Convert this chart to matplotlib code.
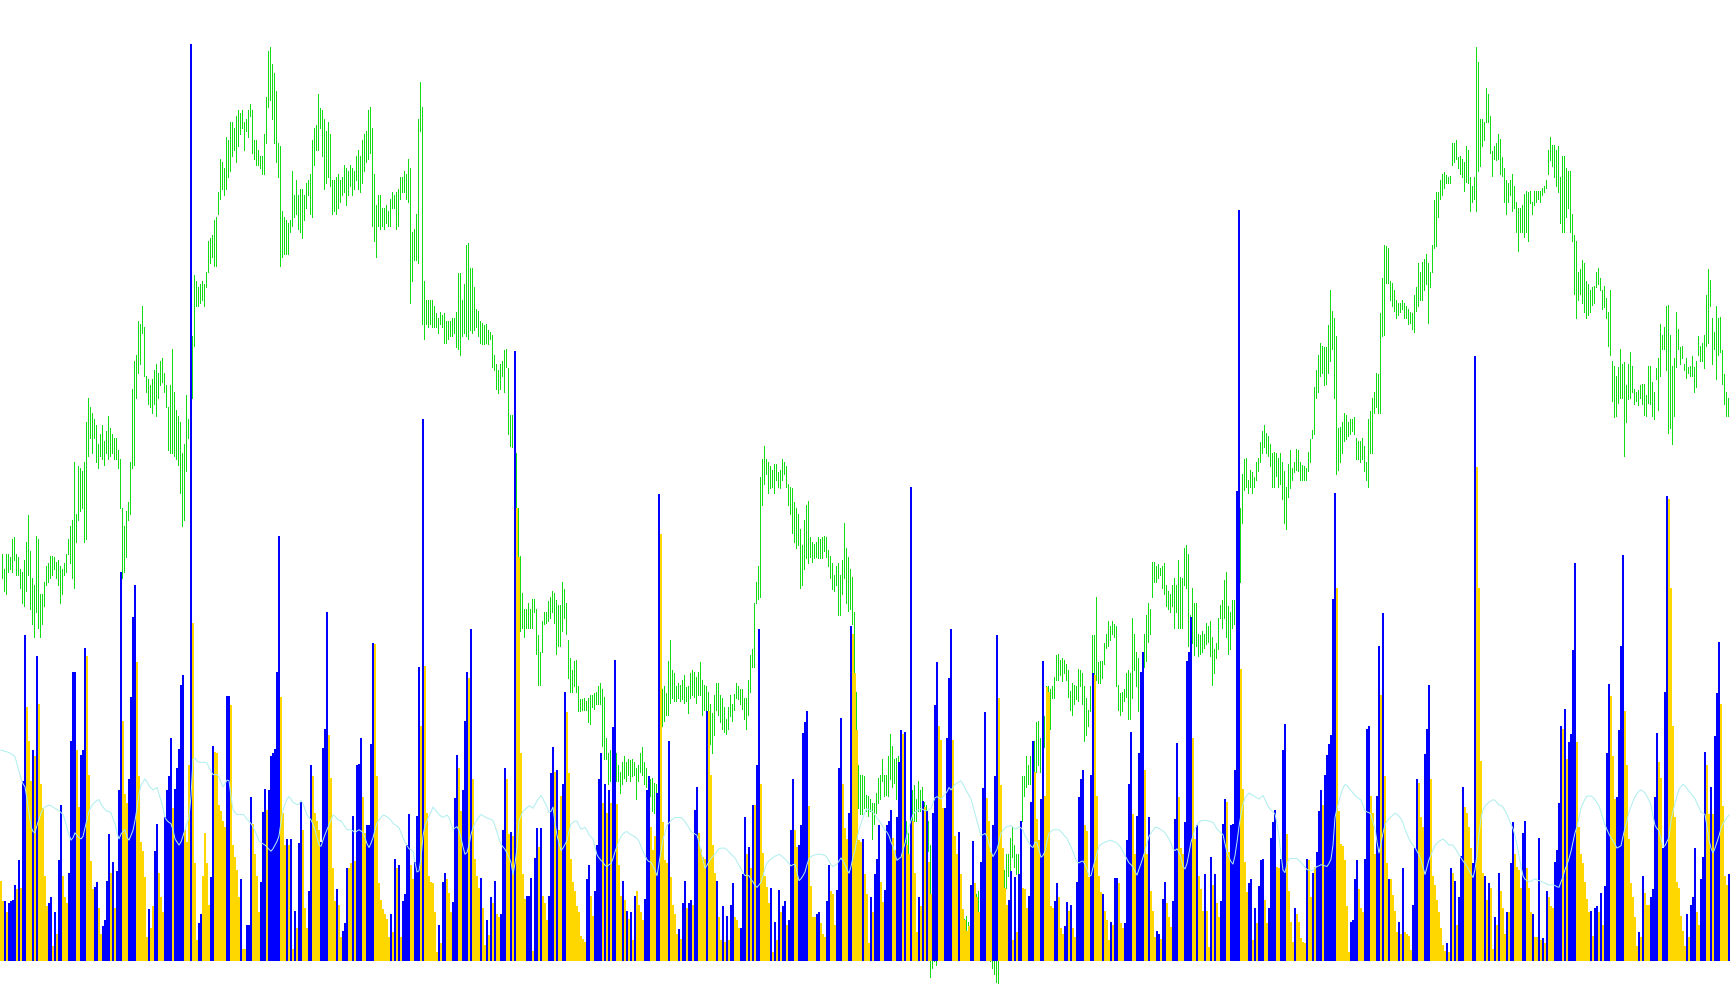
import numpy as np
import matplotlib
matplotlib.use("Agg")
import matplotlib.pyplot as plt

# bar extremes (price units), one pair per bar, left to right
high = [
    665, 640, 665, 665, 660, 690, 692, 665, 660, 640, 635, 655, 685, 728, 670, 625, 615, 695, 690, 600,
    600, 620, 645, 650, 662, 662, 660, 652, 655, 645, 640, 650, 665, 690, 710, 720, 815, 730, 808, 805,
    800, 815, 880, 920, 905, 895, 885, 875, 845, 860, 875, 850, 865, 890, 870, 860, 855, 855, 835, 820,
    740, 710, 735, 750, 815, 935, 980, 990, 1045, 1040, 1070, 1035, 955, 950, 940, 950, 965, 975, 960, 980,
    985, 960, 940, 905, 940, 1000, 930, 900, 890, 880, 830, 845, 925, 885, 925, 1020, 1120, 1110, 1100, 1105,
    1110, 1105, 1125, 1175, 1180, 1185, 1210, 1215, 1255, 1310, 1305, 1295, 1345, 1340, 1370, 1370, 1360, 1380, 1390, 1385,
    1390, 1370, 1375, 1390, 1400, 1390, 1340, 1340, 1325, 1315, 1315, 1350, 1410, 1485, 1492, 1465, 1450, 1420, 1335, 1330,
    1225, 1215, 1210, 1205, 1210, 1290, 1250, 1275, 1250, 1260, 1260, 1250, 1270, 1275, 1285, 1340, 1360, 1365, 1415, 1392,
    1390, 1375, 1355, 1370, 1350, 1275, 1275, 1280, 1285, 1275, 1280, 1300, 1295, 1290, 1300, 1295, 1290, 1315, 1325, 1315,
    1340, 1350, 1355, 1390, 1395, 1360, 1285, 1235, 1250, 1250, 1230, 1230, 1235, 1225, 1245, 1255, 1250, 1255, 1260, 1280,
    1280, 1290, 1285, 1310, 1295, 1190, 1195, 1220, 1375, 1435, 1395, 1110, 1080, 1080, 1080, 1080,
    1070, 1058, 1050, 1060, 1055, 1058, 1045, 1045, 1045, 1050, 1050, 1060, 1123, 1123, 1080, 1105, 1170, 1172, 1132, 1132,
    1100, 1065, 1062, 1045, 1042, 1038, 1040, 1030, 1028, 1022, 990, 975, 965, 975, 980, 998, 1000, 968, 892, 892,
    865, 830, 740, 662, 602, 575, 575, 585, 575, 592, 592, 575, 532, 505, 555, 570, 570, 588, 595, 605,
    602, 590, 582, 582, 620, 608, 585, 525, 495, 475, 490, 492, 450, 428, 428, 430, 425, 430, 435, 435,
    438, 440, 450, 455, 445, 432, 365, 340, 345, 340, 345, 340, 320, 310, 325, 335, 325, 330, 328, 330,
    325, 315, 320, 340, 350, 325, 315, 295, 298, 300, 292, 290, 300, 420, 445, 450, 438, 490, 525, 475,
    470, 450, 455, 452, 460, 468, 448, 450, 470, 475, 472, 465, 472, 488, 460, 452, 450, 440, 420, 405,
    435, 455, 455, 435, 430, 415, 395, 415, 435, 420, 437, 455, 450, 445, 445, 430, 430, 460, 500, 510,
    585, 620, 645, 790, 820, 842, 820, 815, 808, 802, 812, 812, 798, 802, 820, 815, 808, 780, 775, 772,
    750, 740, 730, 705, 680, 720, 745, 752, 692, 685, 682, 685, 692, 690, 692, 695, 692, 672, 662, 650,
    630, 645, 650, 630, 655, 715, 675, 660, 640, 628, 570, 440, 320, 305, 305, 302, 272,
    270, 265, 258, 258, 275, 300, 305, 330, 305, 305, 335, 372, 352, 330, 332, 335, 350, 320, 260, 230,
    210, 252, 280, 288, 265, 295, 280, 285, 260, 255, 230, 190, 120, 90, 70, 80, 100, 120, 130, 140,
    120, 110, 130, 120, 100, 90, 80, 70, 70, 75, 65, 60, 80, 100, 110, 115, 115, 100, 80, 70,
    60, 50, 30, 20, 30, 40, 80, 120, 150, 175, 175, 202, 220, 190, 175, 175, 210, 302, 302, 335,
    320, 335, 325, 360, 390, 392, 365, 395, 400, 450, 450, 445, 450, 465, 500, 502, 492, 495, 492, 485,
    475, 442, 455, 452, 450, 478, 475, 470, 450, 430, 410, 450, 532, 532, 595, 488, 490, 490, 520, 535,
    555, 548, 555, 550, 548, 452, 438, 440, 445, 470, 475, 470, 560, 535, 505, 495, 450, 490, 535, 565,
    585, 575, 652, 652, 645, 648, 642, 645, 650, 615, 605, 600, 615, 625, 615, 655, 627, 625, 675, 680,
    665, 565, 610, 585, 585, 535, 532, 540, 535, 552, 547, 555, 530, 510, 520, 560, 582, 590, 622, 635,
    580, 570, 590, 590, 600, 690, 740, 795, 820, 822, 785, 802, 798, 790, 815, 822, 848, 865, 875, 862,
    858, 845, 830, 832, 830, 822, 830, 815, 800, 775, 812, 835, 805, 815, 837, 835,
    815, 810, 808, 805, 832, 852, 868, 938, 965, 990, 1010, 1005, 1002, 1002, 1038, 1095, 1062, 1050, 1020, 870,
    872, 880, 895, 892, 880, 885, 885, 888, 855, 850, 850, 855, 842, 815, 885, 898, 920, 930, 960, 958,
    1058, 1115, 1170, 1168, 1165, 1110, 1108, 1095, 1080, 1075, 1075, 1080, 1075, 1070, 1065, 1060, 1058, 1088, 1100, 1140,
    1125, 1142, 1147, 1155, 1140, 1125, 1170, 1242, 1255, 1255, 1275, 1285, 1288, 1284, 1280, 1282, 1335, 1335, 1340, 1312,
    1315, 1310, 1305, 1330, 1325, 1280, 1265, 1280, 1493, 1468, 1375, 1375, 1370, 1425, 1415, 1380, 1322, 1330, 1335, 1350,
    1342, 1312, 1295, 1275, 1270, 1275, 1285, 1265, 1240, 1230, 1230, 1235, 1252, 1258, 1255, 1258, 1240, 1258, 1258, 1258,
    1258, 1262, 1265, 1275, 1325, 1345, 1332, 1332, 1325, 1330, 1280, 1315, 1315, 1295, 1290, 1290, 1220, 1185, 1175, 1125,
    1130, 1145, 1140, 1110, 1105, 1095, 1100, 1102, 1125, 1132, 1115, 1095, 1102, 1082, 1060, 1095, 980, 972, 955, 970,
    1000, 975, 978, 940, 975, 995, 972, 935, 930, 932, 940, 942, 942, 925, 972, 972, 945, 930, 968, 985,
    1040, 1022, 1035, 1070, 1072, 1022, 972, 985, 1060, 1032, 1002, 1005, 975, 985, 970, 972, 988, 970, 980, 1020,
    1005, 1010, 1023, 1088, 1130, 1112, 1050, 1028, 1070, 1050, 1052, 998, 958, 930, 920, 920,
]
low = [
    625, 605, 600, 635, 640, 635, 655, 630, 630, 610, 585, 580, 605, 630, 575, 550, 530, 570, 545, 530,
    550, 580, 615, 620, 625, 630, 640, 625, 615, 585, 600, 630, 635, 665, 650, 625, 610, 685, 720, 735,
    740, 685, 690, 825, 855, 830, 855, 815, 805, 825, 820, 810, 830, 820, 825, 830, 820, 820, 805, 740,
    625, 635, 660, 720, 730, 805, 810, 920, 960, 975, 1025, 955, 930, 910, 905, 895, 910, 890, 920, 940,
    945, 930, 905, 835, 830, 830, 825, 820, 810, 765, 710, 720, 800, 855, 875, 920, 1005, 1070, 1070, 1075,
    1080, 1070, 1100, 1125, 1140, 1150, 1135, 1135, 1220, 1245, 1260, 1250, 1260, 1280, 1290, 1315, 1325, 1305, 1330, 1350,
    1360, 1325, 1355, 1345, 1380, 1320, 1310, 1300, 1300, 1295, 1285, 1285, 1335, 1395, 1405, 1375, 1335, 1305, 1280, 1135,
    1150, 1155, 1155, 1155, 1190, 1200, 1215, 1220, 1195, 1190, 1180, 1210, 1230, 1250, 1220, 1215, 1300, 1325, 1325, 1360,
    1315, 1260, 1270, 1280, 1265, 1220, 1225, 1220, 1230, 1240, 1250, 1255, 1235, 1250, 1265, 1250, 1260, 1275, 1260, 1255,
    1270, 1290, 1305, 1310, 1320, 1200, 1175, 1150, 1200, 1195, 1200, 1195, 1205, 1200, 1200, 1230, 1230, 1195, 1200, 1245,
    1255, 1255, 1245, 1240, 1075, 1110, 1145, 1145, 1140, 1355, 1040, 1015, 1040, 1035, 1040, 1035,
    1035, 1035, 1025, 1040, 1035, 1010, 1010, 1015, 1020, 1020, 1025, 1002, 1000, 990, 1020, 1025, 1020, 1015, 1030, 1025,
    1030, 1035, 1020, 1010, 1008, 1008, 1010, 1008, 1015, 970, 965, 935, 927, 935, 955, 930, 970, 860, 842, 840,
    818, 740, 650, 540, 545, 530, 545, 545, 545, 545, 570, 502, 452, 452, 505, 550, 552, 555, 560, 570,
    552, 502, 515, 515, 540, 560, 535, 462, 440, 440, 450, 440, 408, 408, 410, 410, 410, 390, 388, 415,
    412, 420, 420, 420, 352, 330, 330, 290, 295, 290, 310, 295, 295, 275, 290, 300, 295, 305, 295, 302,
    305, 265, 295, 310, 305, 290, 285, 262, 270, 245, 242, 245, 245, 270, 385, 392, 402, 402, 422, 430,
    425, 425, 430, 425, 428, 422, 425, 405, 430, 435, 432, 422, 435, 435, 402, 410, 392, 390, 355, 340,
    370, 410, 402, 390, 380, 375, 372, 380, 400, 392, 410, 430, 428, 420, 412, 395, 380, 402, 440, 480,
    480, 585, 592, 595, 745, 780, 795, 765, 772, 775, 765, 785, 775, 772, 785, 795, 775, 745, 730, 700,
    685, 675, 680, 610, 615, 640, 658, 650, 660, 652, 658, 660, 658, 658, 658, 670, 660, 645, 625, 608,
    605, 615, 565, 565, 600, 625, 585, 572, 575, 550, 420, 300, 250, 240, 240, 250, 245,
    238, 245, 200, 225, 242, 258, 265, 295, 270, 272, 270, 298, 285, 292, 265, 235, 280, 220, 190, 170,
    175, 175, 220, 230, 230, 245, 245, 210, 180, 200, 180, -25, -10, 0, -5, 10, 20, 40, 50, 60,
    50, 40, 60, 50, 30, 20, 10, 20, 30, 40, 20, 20, 25, 40, 50, 60, 70, 50, 30, 20,
    10, 0, -10, -20, -33, -35, 10, 50, 80, 120, 140, 150, 170, 155, 142, 145, 175, 230, 270, 285,
    290, 290, 270, 310, 310, 320, 310, 335, 350, 375, 425, 380, 430, 430, 460, 460, 468, 458, 470, 460,
    432, 410, 402, 420, 428, 425, 450, 420, 360, 370, 385, 408, 430, 405, 460, 455, 455, 462, 485, 512,
    515, 525, 535, 530, 450, 410, 402, 408, 425, 432, 395, 395, 430, 475, 450, 408, 350, 448, 480, 490,
    522, 535, 595, 620, 620, 625, 630, 610, 600, 580, 575, 570, 580, 545, 570, 545, 545, 545, 615, 610,
    515, 515, 520, 500, 515, 498, 502, 505, 512, 518, 522, 498, 452, 470, 495, 510, 560, 545, 560, 530,
    502, 510, 545, 550, 530, 570, 620, 715, 770, 775, 765, 775, 765, 775, 785, 800, 815, 830, 840, 830,
    825, 808, 775, 775, 792, 775, 780, 755, 715, 705, 758, 772, 785, 798, 802, 800,
    785, 785, 785, 785, 800, 815, 855, 860, 920, 930, 955, 960, 940, 942, 960, 980, 1000, 920, 795, 802,
    815, 830, 850, 852, 858, 860, 865, 860, 820, 820, 815, 820, 800, 785, 775, 830, 830, 895, 905, 895,
    895, 1020, 1022, 1108, 1108, 1080, 1070, 1062, 1050, 1055, 1060, 1065, 1050, 1050, 1040, 1042, 1032, 1028, 1062, 1070,
    1080, 1080, 1095, 1105, 1042, 1100, 1125, 1165, 1168, 1215, 1245, 1250, 1262, 1270, 1270, 1270, 1300, 1305, 1310, 1295,
    1285, 1280, 1258, 1272, 1270, 1225, 1240, 1245, 1225, 1290, 1298, 1330, 1340, 1370, 1370, 1320, 1282, 1310, 1308, 1310,
    1285, 1282, 1240, 1220, 1240, 1250, 1225, 1230, 1190, 1160, 1190, 1190, 1182, 1190, 1175, 1238, 1220, 1235, 1240, 1245,
    1240, 1250, 1255, 1262, 1285, 1308, 1298, 1280, 1265, 1255, 1205, 1190, 1190, 1215, 1230, 1190, 1175, 1090, 1050, 1080,
    1090, 1075, 1060, 1050, 1055, 1060, 1072, 1075, 1100, 1105, 1095, 1065, 1068, 1050, 1005, 990, 915, 888, 890, 912,
    920, 920, 825, 880, 918, 920, 930, 910, 915, 908, 920, 910, 892, 890, 912, 910, 890, 885, 950, 900,
    955, 1000, 1000, 965, 862, 870, 845, 890, 970, 1000, 975, 985, 965, 952, 960, 955, 955, 930, 938, 990,
    980, 980, 968, 1005, 1010, 1070, 975, 1000, 950, 990, 995, 942, 910, 890, 890, 890,
]

# histogram per bar and its colour (B = blue, Y = gold)
volume = [
    132, 98, 98, 80, 95, 98, 100, 125, 118, 165, 120, 295, 533, 415, 360, 295, 345, 335, 498, 420,
    290, 250, 140, 90, 95, 105, 25, 80, 45, 165, 255, 140, 105, 95, 145, 360, 472, 473, 345, 252,
    337, 345, 512, 498, 305, 164, 118, 122, 130, 88, 45, 58, 68, 132, 208, 145, 163, 88, 148, 280,
    635, 393, 273, 258, 298, 432, 562, 614, 488, 302, 195, 180, 138, 40, 85, 55, 90, 180, 225, 145,
    105, 80, 235, 280, 303, 365, 250, 282, 315, 347, 452, 468, 215, 195, 320, 1498, 552, 160, 35, 63,
    77, 140, 210, 160, 93, 138, 352, 342, 340, 255, 245, 230, 220, 433, 433, 418, 190, 170, 150, 105,
    134, 20, 20, 60, 60, 268, 225, 175, 140, 80, 130, 244, 282, 248, 280, 335, 340, 347, 473, 694,
    432, 243, 190, 200, 190, 200, 20, 83, 55, 193, 260, 215, 88, 55, 115, 320, 302, 243, 230, 215,
    195, 348, 380, 570, 370, 300, 152, 98, 118, 92, 40, 50, 62, 153, 153, 160, 238, 164, 320, 322,
    365, 268, 210, 222, 222, 355, 520, 518, 303, 128, 100, 85, 78, 70, 40, 78, 48, 168, 152, 158,
    40, 98, 110, 190, 240, 158, 135, 163, 238, 480, 385, 886, 482, 242, 140, 130,
    128, 80, 15, 60, 30, 130, 145, 135, 112, 80, 97, 267, 337, 315, 245, 280, 393, 472, 463, 542,
    298, 167, 140, 120, 137, 88, 27, 68, 43, 105, 95, 132, 77, 73, 78, 215, 315, 298, 208, 212,
    205, 997, 740, 660, 340, 142, 102, 107, 107, 137, 17, 169, 218, 187, 218, 107, 95, 67, 107, 308,
    350, 310, 312, 215, 270, 290, 440, 407, 307, 168, 130, 115, 90, 80, 42, 37, 32, 135, 158, 107,
    75, 115, 190, 297, 340, 258, 290, 243, 280, 258, 383, 492, 257, 157, 107, 132, 100, 83, 70, 80,
    35, 107, 115, 92, 80, 68, 102, 280, 303, 220, 182, 205, 275, 763, 698, 227, 165, 160, 360, 138,
    92, 77, 45, 53, 37, 95, 132, 87, 95, 100, 93, 248, 285, 210, 183, 170, 168, 408, 408, 305,
    190, 145, 132, 72, 35, 90, 32, 75, 35, 92, 128, 73, 68, 55, 55, 142, 235, 175, 187, 152,
    255, 255, 320, 542, 290, 177, 140, 122, 95, 120, 15, 65, 35, 117, 80, 90, 98, 60, 67, 215,
    298, 215, 187, 190, 223, 373, 390, 408, 253, 123, 72, 72, 78, 80, 62, 45, 40, 98, 157, 115,
    110, 60, 117, 315, 398, 290, 218, 200, 242, 548, 535, 470, 378, 198, 195, 200, 142,
    110, 30, 105, 80, 142, 168, 223, 130, 97, 117, 222, 230, 248, 202, 182, 235, 325, 377, 372, 375,
    190, 175, 775, 230, 145, 48, 105, 90, 262, 252, 245, 162, 110, 242, 418, 488, 385, 362, 250, 250,
    365, 463, 542, 362, 205, 175, 212, 143, 85, 67, 50, 58, 125, 197, 128, 105, 80, 163, 283, 407,
    267, 230, 178, 223, 302, 533, 430, 288, 185, 120, 92, 100, 148, 35, 138, 48, 142, 230, 120, 118,
    87, 107, 260, 360, 310, 232, 198, 265, 490, 270, 448, 440, 90, 88, 98, 128, 105, 55, 45, 58,
    97, 83, 92, 55, 40, 130, 268, 298, 312, 223, 213, 138, 305, 470, 468, 270, 140, 113, 110, 83,
    68, 35, 65, 60, 137, 137, 128, 62, 55, 63, 198, 290, 375, 240, 175, 237, 340, 472, 505, 313,
    175, 235, 115, 82, 40, 50, 45, 37, 102, 130, 95, 72, 57, 98, 233, 357, 268, 185, 175, 228,
    490, 505, 562, 365, 200, 222, 140, 118, 83, 142, 83, 23, 170, 125, 142, 95, 72, 98, 225, 265,
    260, 178, 222, 225, 313, 768, 1227, 477, 282, 162, 113, 128, 135, 35, 88, 62, 123, 165, 167, 100,
    62, 88, 202, 228, 248, 155, 152, 168, 345, 387, 208, 115, 65, 32, 88, 78,
    65, 38, 32, 30, 168, 165, 105, 145, 155, 178, 245, 280, 255, 305, 337, 355, 370, 592, 765, 610,
    245, 192, 188, 165, 90, 15, 65, 68, 135, 165, 118, 88, 80, 168, 380, 385, 270, 243, 175, 270,
    515, 435, 568, 303, 160, 135, 135, 108, 83, 48, 65, 45, 152, 48, 45, 42, 18, 92, 185, 297,
    292, 235, 220, 338, 380, 452, 298, 140, 125, 100, 80, 55, 27, 17, 30, 15, 153, 145, 132, 60,
    105, 172, 285, 252, 242, 220, 185, 160, 988, 807, 610, 327, 145, 140, 100, 128, 120, 20, 73, 60,
    145, 115, 88, 45, 80, 80, 160, 228, 175, 155, 150, 120, 210, 230, 152, 120, 80, 78, 40, 40,
    202, 35, 38, 30, 115, 105, 90, 88, 162, 182, 258, 385, 380, 412, 330, 358, 372, 508, 650, 358,
    220, 175, 160, 130, 102, 80, 83, 42, 88, 90, 80, 112, 60, 123, 340, 453, 433, 335, 265, 268,
    377, 515, 663, 408, 320, 200, 128, 105, 72, 25, 48, 40, 140, 112, 93, 93, 105, 118, 268, 373,
    325, 300, 185, 440, 760, 755, 610, 385, 235, 130, 120, 75, 50, 25, 78, 40, 92, 105, 185, 80,
    60, 135, 170, 342, 320, 240, 285, 240, 368, 438, 522, 420, 253, 140, 125, 143,
]
side = (
    "YYBYBBBBYB" "YBBYYYBYBY" "YYYYBBYBYB" "BYYYBBBBYY" "BBBYYYYBBY" "YBBBBYBYBB"
    "BYYYBBBBYY" "YYYYBYYBBY" "YYBBBBYBBB" "BBYYYBYYYB" "BYYYYBBYYY" "YYYBBYYYYY"
    "BYYBBBYYYY" "BBBYBBBBBB" "YYYBYBYBYB" "BYYYBBYYYY" "BBBBYYYYBY" "YBBBYYBYBB"
    "BYYBBBBYYY" "YYYYYBYBYB" "YBBBBYYBBB" "YBYYYY"
    "YYYBYBBYYY" "BBBYYBBBYB" "YYYYBYYBYB" "YBYYBBBYYB" "YBYYYYYBBB" "YBBYBYYYBB"
    "BYBYYBBYYY" "YYYYYYYBBY" "YBBBBYBYBY" "BBYYYBYBYB" "YBYYYYBBBY" "YYBBYYYYBY"
    "YYYBYBBYBB" "YBBYYYYBYY" "YYBYYBYBYB" "BYYYBBBYBY" "BYBBYYYYYB" "YBYBYBBYBB"
    "BYYBBBBBYY" "YYBBYYYBBY" "YYBBBYYYBB" "YYYYYBY"
    "YYBYBBBYYB" "BBBYYBBBYB" "YYBYYYBYBY" "BYYBBBYYYB" "BBBYYYBYYY" "YYBBYYYBBB"
    "YYYBBBYYYY" "YBBYBYBBYY" "YBBBYYYBBY" "YYYYBBYYYB" "BYBYYBBBBY" "YYBBYYYYBY"
    "YYBYBBYYYB" "BBBYYBBBBY" "YBYYYBBYBB" "YYYBBBYYYB" "BBBYYBYYYB" "YYBYBYYBBB"
    "YYBBBBBYYY" "YBBYBYBBBY" "YBBBBYYBBB" "YYYYBY"
    "YYYYBYYBYB" "BBYBBBBBBY" "YYYYYYBBBB" "YYYBBBYYYB" "BYBYYBYYYY" "BYBYYYYBBB"
    "YYYBBBYYYY" "YYYYBYBYBY" "BBBYYYYBBY" "YYYBYBYYBY" "BYYYBYBBYY" "YYBBYYYBYY"
    "BYBYBYYYBB" "BBYBYBBBBY" "YYYYYYBYBB" "YBYBBBYYYB" "BBBYYYYYYY" "BYBYYYBBBB"
    "YYBBBYYYYY" "YYYYBYBBBY" "YBBBYYBYBB" "BYYYYB"
)

# thin signal line drawn over the histogram
signal = [
    345, 344, 343, 342, 341, 339, 337, 334, 322, 310, 298, 290, 285, 265, 243, 220, 212, 210, 222, 232,
    242, 249, 252, 254, 255, 254, 252, 250, 248, 246, 243, 240, 230, 218, 207, 198, 202, 210, 206, 202,
    200, 204, 218, 232, 245, 252, 257, 260, 263, 264, 257, 252, 248, 245, 245, 242, 233, 225, 210, 200,
    208, 212, 215, 203, 198, 206, 214, 230, 250, 273, 288, 293, 298, 293, 287, 283, 280, 282, 284, 273,
    263, 250, 235, 230, 227, 225, 215, 200, 195, 190, 195, 205, 215, 225, 235, 270, 330, 332, 327, 325,
    325, 325, 325, 324, 317, 310, 305, 305, 305, 301, 293, 285, 290, 296, 295, 270, 248, 243, 240, 240,
    240, 240, 237, 232, 229, 225, 220, 213, 205, 197, 194, 192, 190, 187, 183, 180, 184, 190, 196, 205,
    227, 247, 257, 265, 269, 265, 260, 258, 256, 257, 263, 258, 248, 239, 235, 231, 224, 215, 202, 190,
    188, 198, 207, 215, 223, 231, 239, 237, 233, 230, 230, 225, 220, 215, 215, 215, 213, 210, 213, 215,
    213, 210, 202, 192, 186, 193, 202, 215, 226, 231, 235, 239, 238, 236, 234, 230, 226, 223, 221, 218,
    210, 202, 195, 189, 184, 182, 180, 162, 146, 148, 168, 205, 222, 230, 237, 244,
    252, 248, 244, 240, 237, 235, 237, 239, 235, 225, 215, 218, 220, 214, 202, 187, 175, 178, 190, 207,
    218, 226, 231, 236, 240, 238, 236, 234, 233, 232, 230, 221, 211, 200, 191, 187, 183, 177, 170, 162,
    142, 160, 185, 230, 238, 245, 248, 251, 254, 253, 250, 256, 262, 267, 271, 265, 259, 252, 243, 245,
    252, 227, 206, 193, 181, 185, 191, 198, 212, 224, 227, 229, 229, 222, 216, 217, 219, 214, 207, 203,
    200, 187, 174, 169, 165, 162, 157, 155, 158, 160, 168, 179, 188, 197, 204, 208, 211, 212, 209, 207,
    205, 203, 201, 196, 188, 180, 173, 166, 163, 162, 156, 149, 140, 160, 180, 200, 210, 222, 226, 230,
    233, 235, 235, 235, 235, 232, 228, 223, 218, 212, 210, 208, 206, 195, 180, 165, 152, 157, 163, 168,
    172, 175, 180, 184, 185, 185, 185, 182, 179, 175, 172, 169, 163, 157, 151, 145, 140, 141, 140, 134,
    130, 124, 121, 125, 129, 140, 152, 161, 164, 167, 170, 172, 173, 175, 173, 170, 167, 164, 160, 156,
    158, 159, 145, 132, 135, 140, 146, 158, 168, 171, 173, 174, 175, 175, 175, 174, 173, 170, 164, 158,
    155, 157, 159, 164, 169, 164, 158, 150, 144, 155, 170, 182, 200, 215, 225, 235, 244,
    250, 248, 246, 244, 239, 234, 230, 225, 219, 214, 211, 205, 195, 188, 175, 165, 168, 170, 182, 193,
    207, 220, 230, 240, 244, 246, 248, 250, 248, 246, 246, 248, 250, 259, 267, 269, 267, 265, 269, 273,
    277, 284, 280, 284, 289, 291, 293, 295, 289, 283, 277, 271, 265, 253, 241, 229, 217, 205, 207, 209,
    204, 192, 180, 171, 177, 183, 195, 210, 214, 218, 220, 221, 222, 219, 216, 217, 220, 218, 214, 205,
    200, 193, 188, 186, 195, 194, 182, 170, 173, 180, 197, 209, 212, 215, 215, 215, 215, 212, 208, 204,
    201, 194, 187, 179, 170, 162, 161, 163, 164, 158, 150, 140, 140, 153, 165, 177, 188, 191, 193, 195,
    196, 197, 198, 196, 195, 193, 190, 185, 179, 173, 167, 161, 158, 154, 147, 141, 151, 160, 170, 180,
    193, 204, 210, 214, 219, 219, 217, 215, 213, 210, 205, 200, 193, 184, 181, 184, 178, 170, 155, 151,
    160, 177, 195, 205, 217, 222, 227, 230, 230, 230, 230, 229, 228, 227, 222, 216, 213, 210, 207, 192,
    178, 170, 163, 159, 173, 195, 220, 240, 257, 267, 271, 275, 273, 271, 269, 267, 265, 268, 271, 264,
    257, 251, 247, 244, 241, 225, 203, 175, 149, 145, 160, 167, 168, 168, 168, 168,
    165, 162, 158, 154, 150, 149, 148, 149, 152, 155, 156, 158, 157, 156, 155, 160, 167, 190, 235, 250,
    262, 274, 283, 289, 287, 283, 279, 275, 271, 268, 266, 263, 255, 246, 244, 243, 240, 227, 217, 195,
    177, 192, 210, 223, 229, 233, 236, 239, 242, 240, 237, 233, 226, 216, 208, 200, 194, 190, 186, 180,
    174, 166, 154, 142, 154, 166, 174, 182, 189, 193, 196, 198, 200, 197, 194, 190, 190, 190, 185, 180,
    174, 169, 164, 160, 155, 149, 143, 137, 150, 175, 208, 234, 248, 253, 257, 260, 262, 264, 263, 259,
    255, 255, 252, 246, 240, 232, 224, 217, 205, 190, 172, 155, 140, 134, 132, 130, 131, 133, 135, 133,
    132, 131, 129, 128, 126, 125, 125, 125, 124, 122, 121, 130, 138, 150, 158, 168, 180, 195, 210, 220,
    235, 250, 258, 265, 270, 270, 270, 268, 264, 259, 254, 244, 233, 223, 215, 208, 202, 197, 191, 185,
    187, 189, 204, 218, 230, 244, 253, 261, 269, 274, 278, 280, 278, 275, 269, 263, 255, 238, 222, 217,
    213, 200, 187, 189, 196, 202, 230, 245, 258, 270, 281, 285, 289, 287, 282, 278, 274, 270, 266, 258,
    251, 244, 242, 240, 220, 198, 185, 177, 185, 195, 205, 217, 225, 230, 235, 239,
]

GREEN = "#14DC14"
BLUE = "#0000FF"
GOLD = "#FFD700"
CYAN = "#AFEEEE"

n = min(len(high), len(low), len(volume), len(side), len(signal))
x = np.arange(n)

fig = plt.figure(figsize=(17.3, 10.05), dpi=100)
ax = fig.add_axes([0, 0, 1, 1])
ax.set_xlim(-0.5, n - 0.5)
ax.set_ylim(-71, 1569)
ax.axis("off")

# price bars: 1 px wide in the right half of each slot, histogram painted over them
ax.vlines(x + 0.25, low[:n], high[:n], colors=GREEN, linewidth=0.72,
          antialiased=False, zorder=1)
bar_colors = [BLUE if c == "B" else GOLD for c in side[:n]]
ax.bar(x, volume[:n], width=1.0, color=bar_colors, linewidth=0,
       antialiased=False, zorder=2)
ax.plot(x, signal[:n], color=CYAN, linewidth=0.72, zorder=3)

fig.savefig("out.png", dpi=100, facecolor="white")
